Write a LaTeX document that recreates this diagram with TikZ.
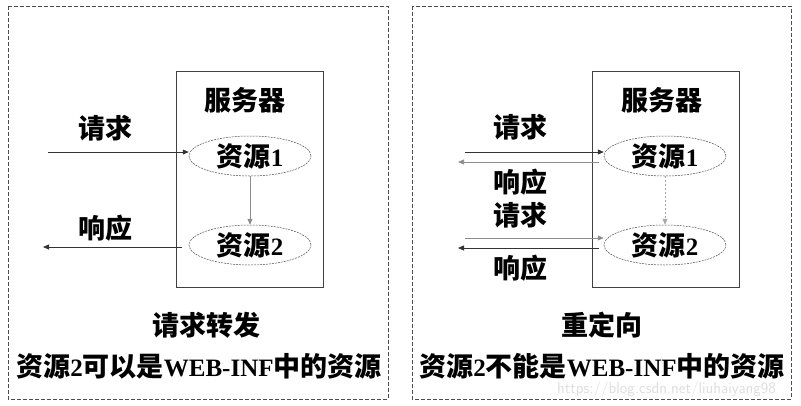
\documentclass[tikz,border=0pt]{standalone}
\usepackage{fontspec}
\setmainfont{Liberation Serif}
\newfontfamily\cjk{Noto Sans CJK SC}[Scale=1.08]
\usetikzlibrary{shapes.geometric}
\usetikzlibrary{arrows.meta}
\usetikzlibrary{positioning}
\newcommand{\zh}[1]{{\cjk #1}}

\begin{document}
\begin{tikzpicture}[x=1pt, y=-1pt,
    every node/.style={font=\fontsize{25}{27}\selectfont\bfseries, inner sep=0pt},
    frame/.style={draw=black!70, line width=1pt, dash pattern=on 4pt off 2pt},
    server/.style={draw=black!75, line width=0.9pt},
    res/.style={ellipse, draw=black!70, line width=0.5pt, dash pattern=on 2pt off 1pt,
                minimum width=122pt, minimum height=40pt},
    link/.style={->, draw=black!80, line width=0.8pt},
    thinlink/.style={->, draw=black!45, line width=0.6pt},
    wmark/.style={font=\fontsize{16}{18}\selectfont, text=black!13},
  ]
\tikzset{>={Triangle[length=6pt, width=5pt]}}

  \useasboundingbox (0,0) rectangle (801,405);

  % left: forward
  \draw[frame] (8,6) rectangle (388,399);
  \draw[server] (176,71) rectangle (323,287);
  \node (srvL) at (245,100) {\zh{服务器}};
  \node[res] (r1L) at (250,156) {\zh{资源}1};
  \node[res] (r2L) at (250,245) {\zh{资源}2};
  \coordinate (inL)  at (48,152);
  \coordinate (outL) at (43,247);
  \coordinate (fromL) at (182,247);
  \node (reqL) at (105,128) {\zh{请求}};
  \node (rspL) at (105,228) {\zh{响应}};
  \draw[link] (inL) -- (inL -| r1L.west);
  \draw[link] (fromL) -- (outL);
  \draw[thinlink] (r1L) -- (r2L);
  \node (capL) at (206,325) {\zh{请求转发}};
  \node (noteL) at (199,366) {\zh{资源}2\zh{可以是}WEB-INF\zh{中的资源}};

  % right: redirect
  \draw[frame] (412,6) rectangle (791,399);
  \draw[server] (592,71) rectangle (739,287);
  \node (srvR) at (662,100) {\zh{服务器}};
  \node[res] (r1R) at (665,156) {\zh{资源}1};
  \node[res] (r2R) at (665,245) {\zh{资源}2};
  \coordinate (in1R)  at (465,152);
  \coordinate (out1R) at (458,162);
  \coordinate (back1R) at (599,162);
  \coordinate (in2R)  at (465,238);
  \coordinate (out2R) at (458,248);
  \coordinate (back2R) at (599,248);
  \node (req1R) at (520,127) {\zh{请求}};
  \node (rsp1R) at (520,182) {\zh{响应}};
  \node (req2R) at (520,215) {\zh{请求}};
  \node (rsp2R) at (520,268) {\zh{响应}};
  \draw[link] (in1R) -- (in1R -| r1R.west);
  \draw[thinlink] (back1R) -- (out1R);
  \draw[thinlink] (in2R) -- (in2R -| r2R.west);
  \draw[link] (back2R) -- (out2R);
  \draw[thinlink, draw=black!35, dash pattern=on 2pt off 2pt] (r1R) -- (r2R);
  \node (capR) at (602,325) {\zh{重定向}};
  \node (noteR) at (602,366) {\zh{资源}2\zh{不能是}WEB-INF\zh{中的资源}};
  \node[wmark, anchor=west] (wm) at (557,389) {\sffamily https://blog.csdn.net/liuhaiyang98};
\end{tikzpicture}
\end{document}
